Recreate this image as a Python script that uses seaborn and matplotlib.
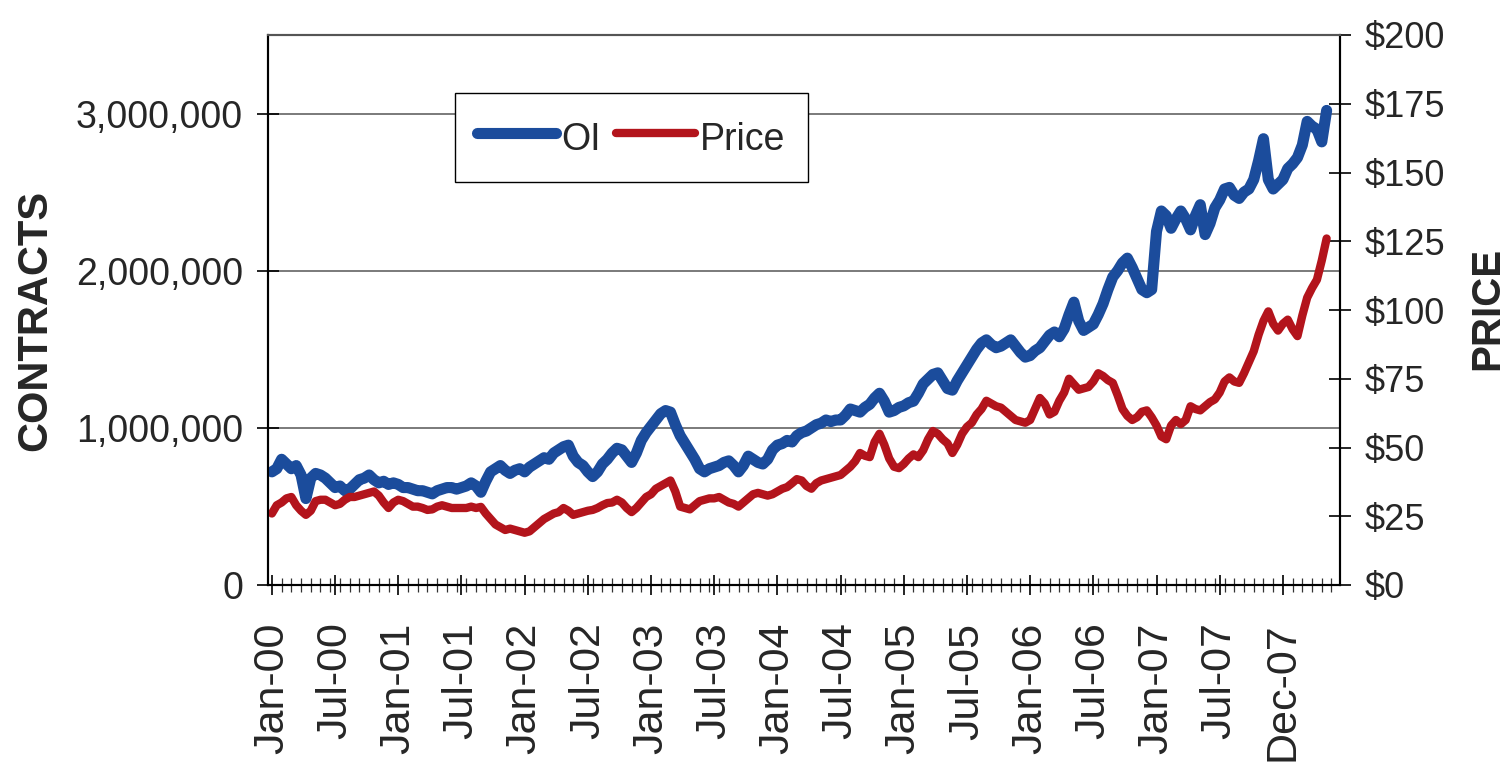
import numpy as np
import pandas as pd
import matplotlib
matplotlib.use("Agg")
import matplotlib.pyplot as plt
from matplotlib.ticker import FuncFormatter, FixedLocator, MultipleLocator
import seaborn as sns

# ---------------- data ----------------
# weekly categories, one value every 2 weeks starting Jan-2000
week_step = 2
oi_thousands = [
    720, 740, 800, 770, 740, 760, 700, 550, 680, 710, 700, 680, 650,
    620, 630, 600, 610, 640, 670, 680, 700, 670, 650, 660, 640, 650,
    640, 620, 620, 610, 600, 600, 590, 580, 600, 610, 620, 620, 610,
    620, 630, 650, 630, 590, 660, 720, 740, 760, 730, 710, 730, 740,
    720, 750, 770, 790, 810, 800, 840, 860, 880, 890, 820, 780, 760,
    720, 690, 720, 770, 800, 840, 870, 860, 820, 780, 840, 920, 970,
    1010, 1050, 1090, 1110, 1100, 1020, 950, 900, 850, 800, 740, 720, 740,
    750, 760, 780, 790, 760, 720, 760, 820, 800, 780, 770, 800, 860,
    890, 900, 920, 910, 950, 970, 980, 1000, 1020, 1030, 1050, 1040, 1050,
    1050, 1080, 1120, 1110, 1100, 1130, 1150, 1190, 1220, 1170, 1100, 1110, 1130,
    1140, 1160, 1170, 1220, 1280, 1310, 1340, 1350, 1300, 1250, 1240, 1300, 1350,
    1400, 1450, 1500, 1540, 1560, 1530, 1510, 1520, 1540, 1560, 1520, 1480, 1450,
    1460, 1490, 1510, 1550, 1590, 1610, 1580, 1630, 1720, 1800, 1680, 1620, 1640,
    1660, 1720, 1790, 1880, 1960, 2000, 2050, 2080, 2020, 1950, 1880, 1860, 1880,
    2250, 2380, 2350, 2270, 2330, 2380, 2330, 2260, 2350, 2420, 2230, 2300, 2400,
    2450, 2520, 2530, 2480, 2460, 2500, 2520, 2580, 2700, 2840, 2580, 2520, 2550,
    2580, 2650, 2680, 2720, 2800, 2950, 2920, 2900, 2820, 3020,
]
price = [
    26, 29, 30, 31.5, 32, 29, 27, 25.5, 27, 30.5, 31, 31, 30,
    29, 29.5, 31, 32, 32, 32.5, 33, 33.5, 34, 32.5, 30, 28, 30,
    31, 30.5, 29.5, 28.5, 28.5, 28, 27.3, 27.5, 28.5, 29, 28.5, 28, 28,
    28, 28, 28.5, 28, 28.4, 26, 24, 22, 21, 20, 20.5, 20, 19.5,
    19, 19.5, 21, 22.5, 24, 25, 26, 26.5, 28, 27, 25.5, 26, 26.5,
    27, 27.3, 28, 29, 29.8, 30, 31, 30, 28, 26.5, 28, 30, 32,
    33, 35, 36, 37, 38, 34, 28.5, 28, 27.5, 29, 30.5, 31, 31.5,
    31.5, 32, 31, 30, 29.5, 28.5, 30, 31.5, 33, 33.5, 33, 32.5, 33,
    34, 35, 35.6, 37, 38.5, 38, 36, 35, 37, 38, 38.5, 39, 39.5,
    40, 41.5, 43, 45, 48, 47, 46.5, 52, 55, 51, 46, 43, 42.5,
    44, 46, 47.5, 46.5, 49, 53, 56, 55, 53, 51.5, 48, 51, 55,
    57.5, 59, 62, 64, 67, 66, 65, 64.5, 63, 61.5, 60, 59.5, 59,
    60, 64, 68, 66, 62, 63, 67, 70, 75, 73, 71, 71.5, 72,
    74, 77, 76, 74.5, 73.5, 69, 64, 61.5, 60, 61, 63, 63.5, 61,
    58, 54, 53, 58, 60, 58.5, 60, 65, 64, 63.5, 65, 66.5, 67.5,
    70, 74, 75.5, 74, 73.5, 77, 81, 85, 91, 96, 99.5, 95, 92.5,
    95, 96.5, 93, 90.5, 98, 104.5, 108, 111, 118, 126,
]
tick_labels = ["Jan-00", "Jul-00", "Jan-01", "Jul-01", "Jan-02", "Jul-02",
               "Jan-03", "Jul-03", "Jan-04", "Jul-04", "Jan-05", "Jul-05",
               "Jan-06", "Jul-06", "Jan-07", "Jul-07", "Dec-07"]
label_every_weeks = 26
series_names = ["OI", "Price"]
left_label = "CONTRACTS"
right_label = "PRICE"

weeks = np.arange(len(oi_thousands)) * week_step
df = pd.DataFrame({"week": weeks,
                   "oi": np.array(oi_thousands) * 1000,
                   "price": price})

# ---------------- style ----------------
sns.set_theme(style="white")
plt.rcParams["font.family"] = ["Liberation Sans", "DejaVu Sans"]

BLUE = "#1B4C9C"
RED = "#B3141C"

fig = plt.figure(figsize=(15.08, 7.73), dpi=100)
ax = fig.add_axes([268 / 1508, 1 - 585 / 773, (1340 - 268) / 1508, (585 - 35) / 773])
ax2 = ax.twinx()

sns.lineplot(data=df, x="week", y="oi", ax=ax, color=BLUE, linewidth=8,
             estimator=None, legend=False)
sns.lineplot(data=df, x="week", y="price", ax=ax2, color=RED, linewidth=6,
             estimator=None, legend=False)

ax.set_xlim(-1.6, 439.5)
ax.set_ylim(0, 3_500_000)
ax2.set_ylim(0, 200)

# x ticks
ax.xaxis.set_major_locator(FixedLocator(np.arange(len(tick_labels)) * label_every_weeks))
ax.set_xticklabels(tick_labels, rotation=90, fontsize=31)
ax.xaxis.set_minor_locator(MultipleLocator(4))
ax.tick_params(axis="x", which="major", direction="inout", length=14, width=1.2,
               color="black", pad=20, bottom=True)
ax.tick_params(axis="x", which="minor", direction="inout", length=10, width=0.9,
               color="#333333", bottom=True)

# left y
ax.yaxis.set_major_locator(FixedLocator([0, 1_000_000, 2_000_000, 3_000_000]))
ax.yaxis.set_major_formatter(FuncFormatter(lambda v, p: f"{v:,.0f}"))
ax.tick_params(axis="y", which="major", direction="inout", length=16, width=1.2,
               color="black", pad=10, left=True, labelsize=27)

# right y
ax2.yaxis.set_major_locator(MultipleLocator(25))
ax2.yaxis.set_major_formatter(FuncFormatter(lambda v, p: f"${v:.0f}"))
ax2.tick_params(axis="y", which="major", direction="inout", length=16, width=1.2,
                color="black", pad=10, right=True, labelsize=26)

ax.set_xlabel("")
ax.set_ylabel("")
ax2.set_ylabel("")
fig.text(35 / 1508, 1 - 320 / 773, left_label, rotation=90, ha="center", va="center",
         fontsize=30, fontweight="bold")
fig.text(1487 / 1508, 1 - 308 / 773, right_label, rotation=90, ha="center", va="center",
         fontsize=29, fontweight="bold")

# grid
ax.grid(False)
ax2.grid(False)
for yv in [1_000_000, 2_000_000, 3_000_000]:
    ax.axhline(yv, color="#7a7a7a", linewidth=1.4, zorder=0)

for a in (ax, ax2):
    for s in ("left", "right", "bottom"):
        a.spines[s].set_color("black")
        a.spines[s].set_linewidth(1.5)
    a.spines["top"].set_color("#555555")
    a.spines["top"].set_linewidth(1.5)

# legend
h1 = plt.Line2D([], [], color=BLUE, linewidth=8, solid_capstyle="round")
h2 = plt.Line2D([], [], color=RED, linewidth=6)
leg = ax2.legend([h1, h2], series_names, loc="upper left",
                 bbox_to_anchor=(0.174, 0.895), ncol=2, frameon=True,
                 fancybox=False, edgecolor="black", framealpha=1,
                 handlelength=2.1, handleheight=1.45, handletextpad=0.15,
                 columnspacing=0.4, borderpad=0.6, borderaxespad=0, fontsize=27)
leg.get_frame().set_linewidth(1.0)

fig.savefig("out.png", dpi=100)
